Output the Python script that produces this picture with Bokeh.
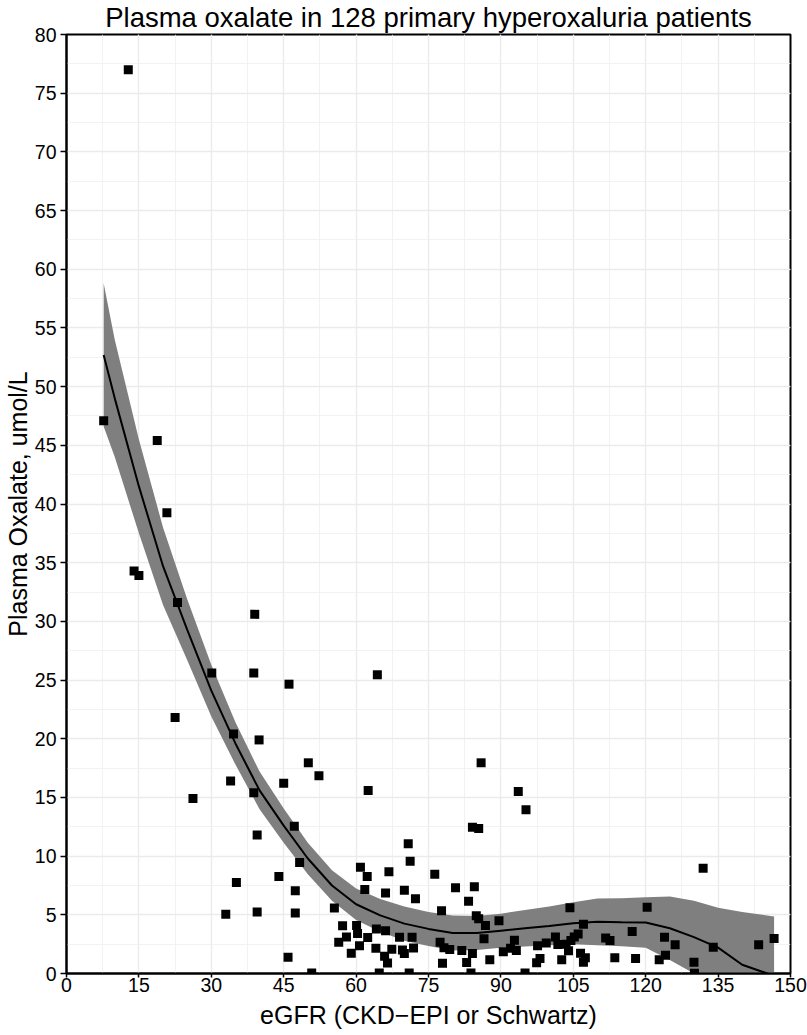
from bokeh.plotting import figure
from bokeh.models import SingleIntervalTicker, Range1d
from bokeh.embed import file_html
from bokeh.resources import INLINE

# Patient data (eGFR, plasma oxalate)
egfr = [12.8, 7.7, 18.8, 20.8, 14.0, 15.0, 23.0, 22.5, 30.1, 26.2,
        34.6, 34.0, 33.0, 35.2, 39.0, 38.8, 39.9, 38.8, 39.5, 39.5,
        46.1, 45.0, 47.2, 44.0, 47.4, 47.4, 48.3, 45.9, 50.1, 52.3,
        50.8, 55.5, 62.5, 64.4, 60.9, 62.3, 66.8, 61.8, 66.1, 70.0,
        72.3, 70.8, 71.2, 57.2, 60.1, 60.3, 58.0, 56.4, 62.4, 64.2,
        66.1, 60.7, 59.0, 64.1, 67.4, 65.9, 66.5, 69.0, 71.6, 69.6,
        70.0, 71.9, 64.8, 71.0,
        76.3, 80.6, 84.5, 83.3, 77.7, 84.9, 85.4, 86.8, 89.6, 85.9,
        93.6, 95.2, 84.1, 85.4, 86.5, 77.4, 78.2, 79.4, 81.9, 84.1,
        77.9, 82.9, 87.7, 83.8, 90.5, 92.0, 92.8, 93.2, 95.0, 97.6,
        99.4, 101.3, 101.8, 103.5, 104.0, 104.5, 105.2, 106.0, 106.5, 107.5,
        107.1, 102.6, 97.4, 98.1, 104.3, 107.1, 111.7, 112.6, 113.6, 117.2,
        117.9, 120.3, 131.9, 123.9, 126.1, 124.1, 122.8, 130.0, 130.1, 134.0,
        143.4, 146.6]
oxalate = [77.0, 47.1, 45.4, 39.25, 34.3, 33.9, 31.6, 21.8, 25.6, 14.9,
           20.4, 16.4, 5.05, 7.75, 30.6, 25.6, 19.9, 15.4, 11.8, 5.25,
           24.65, 16.2, 12.55, 8.26, 7.05, 5.15, 9.46, 1.38, 17.95, 16.85,
           0.05, 5.58, 15.6, 25.45, 9.06, 8.26, 8.66, 7.16, 6.85, 7.1,
           6.36, 11.05, 9.57, 4.07, 4.1, 3.4, 3.1, 2.67, 3.07, 3.79,
           3.65, 2.37, 1.72, 2.16, 2.07, 1.46, 0.9, 3.08, 3.08, 2.0,
           1.7, 2.17, 0.05, 0.05,
           8.46, 7.3, 7.4, 6.16, 5.35, 4.92, 4.66, 4.09, 4.5, 17.95,
           15.5, 13.95, 12.47, 12.35, 2.95, 2.67, 2.19, 2.04, 1.96, 1.7,
           0.88, 0.93, 1.18, 0.05, 1.86, 2.15, 2.84, 1.96, 0.05, 2.37,
           2.6, 3.1, 2.47, 2.5, 1.93, 2.81, 3.1, 3.36, 1.73, 1.34,
           0.95, 1.17, 0.91, 1.28, 5.6, 4.2, 3.02, 2.81, 1.35, 3.57,
           1.27, 5.65, 8.97, 3.08, 2.45, 1.56, 1.17, 0.96, 0.02, 2.24,
           2.44, 2.98]

# Smoothed fit with confidence band
smooth_x = [7.7, 10, 15, 20, 25, 30, 35, 40, 45, 50, 55, 60, 65, 70, 75,
            80, 85, 90, 95, 100, 105, 110, 115, 120, 125, 130, 135, 140, 146.6]
smooth_y = [52.7, 49.0, 41.5, 34.7, 29.3, 24.1, 19.6, 15.6, 12.6, 9.8, 7.5,
            5.9, 4.95, 4.25, 3.8, 3.45, 3.45, 3.65, 3.85, 4.05, 4.28, 4.4,
            4.37, 4.35, 3.85, 3.1, 2.2, 0.75, -0.2]
smooth_hi = [58.8, 54.0, 45.5, 38.0, 31.9, 26.3, 21.4, 17.2, 14.05, 11.15,
             8.8, 7.25, 6.35, 5.7, 5.25, 4.95, 4.9, 5.1, 5.4, 5.7, 6.06, 6.4,
             6.42, 6.5, 6.55, 6.2, 5.6, 5.25, 4.85]
smooth_lo = [46.6, 44.0, 37.5, 31.4, 26.7, 21.9, 17.8, 14.0, 11.15, 8.45,
             6.2, 4.55, 3.55, 2.8, 2.35, 1.95, 2.0, 2.2, 2.3, 2.4, 2.5, 2.4,
             2.32, 2.2, 1.15, 0.0, -1.2, -3.75, -5.25]

title_text = "Plasma oxalate in 128 primary hyperoxaluria patients"
x_title = "eGFR (CKD\u2212EPI or Schwartz)"
y_title = "Plasma Oxalate, umol/L"

FONT = "Liberation Sans"

p = figure(width=807, height=1035,
           x_range=Range1d(0, 150), y_range=Range1d(0, 80),
           min_border_left=65, min_border_right=17,
           min_border_top=34, min_border_bottom=62,
           output_backend="svg", toolbar_location=None,
           title=title_text, x_axis_label=x_title, y_axis_label=y_title)

p.background_fill_color = "white"
p.border_fill_color = "white"
p.outline_line_color = "black"
p.outline_line_width = 2

p.title.text_font = FONT
p.title.text_font_size = "27.5px"
p.title.text_font_style = "normal"
p.title.text_color = "black"
p.title.align = "center"
p.title.vertical_align = "top"
p.title.standoff = 0
p.title.offset = 0

xt = SingleIntervalTicker(interval=15, num_minor_ticks=2)
yt = SingleIntervalTicker(interval=5, num_minor_ticks=2)
p.xaxis.ticker = xt
p.yaxis.ticker = yt
p.xgrid.ticker = xt
p.ygrid.ticker = yt

for g in (p.xgrid, p.ygrid):
    g.grid_line_color = "#EBEBEB"
    g.grid_line_width = 1.4
    g.minor_grid_line_color = "#EFEFEF"
    g.minor_grid_line_width = 0.8

for ax in (p.xaxis, p.yaxis):
    ax.axis_line_color = "black"
    ax.axis_line_width = 2
    ax.major_tick_line_color = "black"
    ax.major_tick_line_width = 1.5
    ax.major_tick_in = 0
    ax.minor_tick_out = 0
    ax.minor_tick_in = 0
    ax.major_label_text_font = FONT
    ax.major_label_text_font_size = "19.5px"
    ax.major_label_text_color = "black"
    ax.axis_label_text_font = FONT
    ax.axis_label_text_font_size = "25px"
    ax.axis_label_text_font_style = "normal"
    ax.axis_label_text_color = "black"
p.xaxis.major_tick_out = 4
p.yaxis.major_tick_out = 6
p.xaxis.major_label_standoff = 0
p.yaxis.major_label_standoff = 4
p.xaxis.axis_label_standoff = 6
p.yaxis.axis_label_standoff = 0

p.varea(x=smooth_x, y1=smooth_lo, y2=smooth_hi, fill_color="#7F7F7F")
p.scatter(x=egfr, y=oxalate, marker="square", size=9,
          fill_color="black", line_color="black", line_width=0)
p.line(x=smooth_x, y=smooth_y, line_color="black", line_width=2)

open("out.html", "w").write(file_html(p, INLINE))
